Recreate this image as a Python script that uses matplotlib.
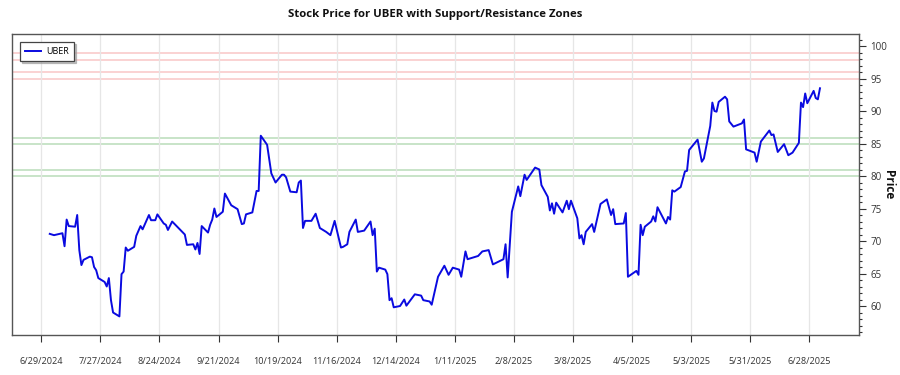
import matplotlib
matplotlib.use("Agg")
import matplotlib.pyplot as plt
import matplotlib.dates as mdates
from matplotlib.ticker import MultipleLocator, FixedLocator
import pandas as pd

plt.rcParams['font.family'] = ['Open Sans', 'DejaVu Sans']

dates = [
    "2024-07-03", "2024-07-05", "2024-07-09", "2024-07-10", "2024-07-11", "2024-07-12",
    "2024-07-15", "2024-07-16", "2024-07-17", "2024-07-18", "2024-07-19", "2024-07-22",
    "2024-07-23", "2024-07-24", "2024-07-25", "2024-07-26", "2024-07-29", "2024-07-30",
    "2024-07-31", "2024-08-01", "2024-08-02", "2024-08-05", "2024-08-06", "2024-08-07",
    "2024-08-08", "2024-08-09", "2024-08-12", "2024-08-13", "2024-08-15", "2024-08-16",
    "2024-08-19", "2024-08-20", "2024-08-22", "2024-08-23", "2024-08-26", "2024-08-27",
    "2024-08-28", "2024-08-30", "2024-09-05", "2024-09-06", "2024-09-09", "2024-09-10",
    "2024-09-11", "2024-09-12", "2024-09-13", "2024-09-16", "2024-09-17", "2024-09-18",
    "2024-09-19", "2024-09-20", "2024-09-23", "2024-09-24", "2024-09-25", "2024-09-27",
    "2024-09-30", "2024-10-02", "2024-10-03", "2024-10-04", "2024-10-07", "2024-10-09",
    "2024-10-10", "2024-10-11", "2024-10-14", "2024-10-16", "2024-10-18", "2024-10-21",
    "2024-10-22", "2024-10-23", "2024-10-25", "2024-10-28", "2024-10-29", "2024-10-30",
    "2024-10-31", "2024-11-01", "2024-11-04", "2024-11-06", "2024-11-08", "2024-11-11",
    "2024-11-13", "2024-11-15", "2024-11-18", "2024-11-19", "2024-11-21", "2024-11-22",
    "2024-11-25", "2024-11-26", "2024-11-29", "2024-12-02", "2024-12-03", "2024-12-04",
    "2024-12-05", "2024-12-06", "2024-12-09", "2024-12-10", "2024-12-11", "2024-12-12",
    "2024-12-13", "2024-12-16", "2024-12-18", "2024-12-19", "2024-12-23", "2024-12-26",
    "2024-12-27", "2024-12-30", "2024-12-31", "2025-01-03", "2025-01-06", "2025-01-08",
    "2025-01-10", "2025-01-13", "2025-01-14", "2025-01-16", "2025-01-17", "2025-01-22",
    "2025-01-24", "2025-01-27", "2025-01-29", "2025-02-03", "2025-02-04", "2025-02-05",
    "2025-02-07", "2025-02-10", "2025-02-11", "2025-02-13", "2025-02-14", "2025-02-18",
    "2025-02-20", "2025-02-21", "2025-02-24", "2025-02-25", "2025-02-26", "2025-02-27",
    "2025-02-28", "2025-03-03", "2025-03-05", "2025-03-06", "2025-03-07", "2025-03-10",
    "2025-03-11", "2025-03-12", "2025-03-13", "2025-03-14", "2025-03-17", "2025-03-18",
    "2025-03-21", "2025-03-24", "2025-03-26", "2025-03-27", "2025-03-28", "2025-04-01",
    "2025-04-02", "2025-04-03", "2025-04-07", "2025-04-08", "2025-04-09", "2025-04-10",
    "2025-04-11", "2025-04-14", "2025-04-15", "2025-04-16", "2025-04-17", "2025-04-21",
    "2025-04-22", "2025-04-23", "2025-04-24", "2025-04-25", "2025-04-28", "2025-04-30",
    "2025-05-01", "2025-05-02", "2025-05-06", "2025-05-08", "2025-05-09", "2025-05-12",
    "2025-05-13", "2025-05-14", "2025-05-15", "2025-05-16", "2025-05-19", "2025-05-20",
    "2025-05-21", "2025-05-23", "2025-05-27", "2025-05-28", "2025-05-29", "2025-06-02",
    "2025-06-03", "2025-06-05", "2025-06-09", "2025-06-10", "2025-06-11", "2025-06-13",
    "2025-06-16", "2025-06-18", "2025-06-20", "2025-06-23", "2025-06-24", "2025-06-25",
    "2025-06-26", "2025-06-27", "2025-06-30", "2025-07-01", "2025-07-02", "2025-07-03",
]

prices = [
    71.1, 70.9, 71.2, 69.2, 73.3, 72.3,
    72.2, 74.0, 68.6, 66.3, 67.1, 67.6,
    67.5, 66.0, 65.5, 64.3, 63.7, 63.0,
    64.3, 60.9, 59.0, 58.4, 64.9, 65.3,
    69.0, 68.5, 69.1, 70.8, 72.3, 71.8,
    74.0, 73.2, 73.2, 74.1, 72.7, 72.5,
    71.7, 73.0, 71.0, 69.4, 69.5, 68.7,
    69.7, 68.0, 72.3, 71.3, 72.5, 73.3,
    75.0, 73.7, 74.5, 77.3, 76.7, 75.5,
    74.9, 72.6, 72.7, 74.1, 74.4, 77.7,
    77.7, 86.2, 84.8, 80.4, 79.0, 80.2,
    80.2, 79.8, 77.6, 77.5, 79.0, 79.3,
    72.0, 73.1, 73.1, 74.2, 72.0, 71.4,
    70.9, 73.1, 69.0, 69.1, 69.5, 71.4,
    73.3, 71.4, 71.6, 73.0, 70.9, 71.9,
    65.3, 65.9, 65.6, 64.9, 60.9, 61.2,
    59.8, 60.0, 61.0, 60.05, 61.8, 61.6,
    60.9, 60.7, 60.2, 64.5, 66.2, 64.8,
    65.9, 65.6, 64.5, 68.4, 67.2, 67.7,
    68.4, 68.6, 66.4, 67.2, 69.5, 64.4,
    74.5, 78.4, 76.9, 80.2, 79.4, 81.3,
    81.0, 78.6, 76.8, 74.7, 75.8, 74.2,
    75.9, 74.4, 76.2, 74.9, 76.2, 73.5,
    70.4, 70.9, 69.5, 71.4, 72.6, 71.4,
    75.7, 76.4, 74.0, 74.9, 72.6, 72.7,
    74.3, 64.5, 65.4, 64.8, 72.5, 70.9,
    72.2, 73.0, 73.8, 73.0, 75.2, 72.7,
    73.7, 73.3, 77.8, 77.6, 78.3, 80.7,
    80.8, 84.0, 85.6, 82.2, 82.7, 87.7,
    91.3, 90.0, 89.9, 91.4, 92.2, 91.8,
    88.4, 87.6, 88.1, 88.7, 84.1, 83.6,
    82.2, 85.3, 87.0, 86.3, 86.4, 83.7,
    84.9, 83.2, 83.6, 85.1, 91.3, 90.6,
    92.7, 91.2, 93.1, 92.0, 91.8, 93.5,
]

resistance_levels = [98.85, 97.9, 96.0, 95.0]
support_levels = [85.9, 84.9, 80.9, 80.0]

tick_dates = ["2024-06-29", "2024-07-27", "2024-08-24", "2024-09-21", "2024-10-19",
              "2024-11-16", "2024-12-14", "2025-01-11", "2025-02-08", "2025-03-08",
              "2025-04-05", "2025-05-03", "2025-05-31", "2025-06-28"]
tick_labels = ["6/29/2024", "7/27/2024", "8/24/2024", "9/21/2024", "10/19/2024",
               "11/16/2024", "12/14/2024", "1/11/2025", "2/8/2025", "3/8/2025",
               "4/5/2025", "5/3/2025", "5/31/2025", "6/28/2025"]

x = pd.to_datetime(dates)
tx = mdates.date2num(pd.to_datetime(tick_dates).to_pydatetime())

fig = plt.figure(figsize=(9, 3.75), dpi=100)
ax = fig.add_axes([12/900, 1-335/375, (859-12)/900, (335-34)/375])

for lv in resistance_levels:
    ax.axhline(lv, color='#f28c8c', alpha=0.45, lw=1.2, zorder=1)
for lv in support_levels:
    ax.axhline(lv, color='#7fbf7f', alpha=0.5, lw=1.2, zorder=1)

ax.plot(x, prices, color='#0a0ae0', lw=1.4, label='UBER', zorder=3)

t0 = tx[0]
ax.set_xlim(t0 - 13.9, t0 + 387.5)
ax.set_ylim(55.54, 101.85)

ax.xaxis.set_major_locator(FixedLocator(tx))
ax.set_xticklabels(tick_labels)
ax.grid(axis='x', color='#e6e6e6', lw=0.9, zorder=0)

ax.yaxis.tick_right()
ax.yaxis.set_label_position('right')
ax.yaxis.set_minor_locator(MultipleLocator(1))
ax.set_yticks([60, 65, 70, 75, 80, 85, 90, 95, 100])
ax.tick_params(axis='y', which='major', length=5, width=0.8, labelsize=7,
               colors='#333333', pad=3)
ax.tick_params(axis='y', which='minor', length=2.5, width=0.8, colors='#333333')
ax.tick_params(axis='x', which='major', length=5, width=0.8, labelsize=6.6,
               colors='#333333', pad=11)
for s in ax.spines.values():
    s.set_color('#555555')
    s.set_linewidth(1.0)

ax.set_ylabel('Price', rotation=270, fontsize=8.5, fontweight='bold',
              labelpad=6, color='#111111')
fig.text(435.5/900, 1-15/375, 'Stock Price for UBER with Support/Resistance Zones',
         ha='center', va='center', fontsize=8.2, fontweight='bold', color='#111111')

leg = ax.legend(loc='upper left', fontsize=6.5, frameon=True, fancybox=False,
                shadow={'ox': 1.5, 'oy': -1.5, 'color': '#999999', 'alpha': 0.6},
                borderpad=0.6, handlelength=1.7, handletextpad=0.6,
                bbox_to_anchor=(0.004, 0.99))
leg.get_frame().set_edgecolor('#444444')
leg.get_frame().set_linewidth(0.9)

fig.savefig('out.png', dpi=100)
